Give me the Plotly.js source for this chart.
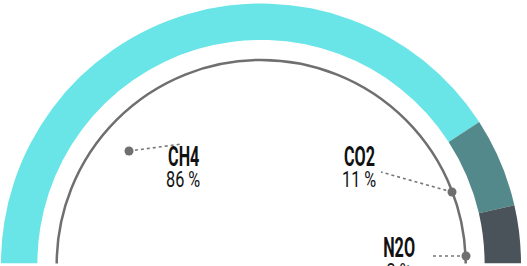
<!DOCTYPE html>
<html>
<head>
<meta charset="utf-8">
<script src="https://cdn.plot.ly/plotly-3.0.1.min.js"></script>
<style>
  html, body { margin: 0; padding: 0; overflow: hidden; background: #ffffff; }
  #chart { width: 527px; height: 530px; }
</style>
</head>
<body>
<div id="chart"></div>
<script>
// ---- data ----
const gases = ["CH4", "CO2", "N2O"];
const shareLabels = ["86 %", "11 %", "3 %"];
// share of the half-ring each arc occupies (%)
const arcShares = [81.7, 11.1, 7.2];
const gasColors = ["#69E4E7", "#54898B", "#4A525A"];

// ---- geometry helpers (pixel -> paper) ----
const W = 527, H = 530;
const px = x => x / W;
const py = y => 1 - y / H;

const cx = 261, cy = 263.5, R = 260;

// pie values: the three arcs plus an invisible lower half
const pieValues = arcShares.concat([arcShares.reduce((a, b) => a + b, 0)]);
const pieColors = gasColors.concat(["rgba(255,255,255,0)"]);

const pie = {
  type: "pie",
  values: pieValues,
  labels: gases.concat(["rest"]),
  sort: false,
  direction: "clockwise",
  rotation: -90,
  hole: 0.86,
  marker: { colors: pieColors, line: { width: 0 } },
  textinfo: "none",
  hoverinfo: "skip",
  showlegend: false,
  domain: { x: [px(cx - R), px(cx + R)], y: [py(cy + R), py(cy - R)] }
};

// leader dots / lines / label anchors (pixel coords)
const dots = [[129, 151], [452, 192], [466, 256]];
const lineEnds = [[182, 144], [381, 172], [430, 256]];
const labelX = [183, 359, 399];
const nameY = [156.5, 156.5, 247.5];
const pctY = [180, 180, 271];

const shapes = [];
const gr = 204.5, gcx = 261.2, gcy = 264.5;
shapes.push({
  type: "circle", xref: "paper", yref: "paper",
  x0: px(gcx - gr), x1: px(gcx + gr), y0: py(gcy + gr), y1: py(gcy - gr),
  line: { color: "#6f6f6f", width: 2.5 }, fillcolor: "rgba(0,0,0,0)"
});
shapes.push({
  type: "rect", xref: "paper", yref: "paper",
  x0: 0, x1: 1, y0: 0, y1: py(263.5),
  line: { width: 0 }, fillcolor: "#ffffff", layer: "above"
});
const annotations = [];
const FONT = "Roboto, Open Sans, DejaVu Sans, sans-serif";
for (let i = 0; i < gases.length; i++) {
  const [dx, dy] = dots[i];
  const [ex, ey] = lineEnds[i];
  shapes.push({
    type: "line", xref: "paper", yref: "paper",
    x0: px(dx), y0: py(dy), x1: px(ex), y1: py(ey),
    line: { color: "#777777", width: 1.6, dash: "dot" }
  });
  shapes.push({
    type: "circle", xref: "paper", yref: "paper",
    x0: px(dx - 4.5), x1: px(dx + 4.5), y0: py(dy + 4.5), y1: py(dy - 4.5),
    line: { width: 0 }, fillcolor: "#6f6f6f"
  });
  annotations.push({
    xref: "paper", yref: "paper", x: px(labelX[i]), y: py(nameY[i]),
    xanchor: "center", yanchor: "middle", showarrow: false,
    text: gases[i],
    font: { family: FONT, size: 24.5, weight: 700, color: "#111111" }
  });
  annotations.push({
    xref: "paper", yref: "paper", x: px(labelX[i]), y: py(pctY[i]),
    xanchor: "center", yanchor: "middle", showarrow: false,
    text: shareLabels[i],
    font: { family: FONT, size: 22, weight: 400, color: "#111111" }
  });
}

const layout = {
  width: W, height: H,
  margin: { l: 0, r: 0, t: 0, b: 0 },
  paper_bgcolor: "#ffffff",
  plot_bgcolor: "#ffffff",
  showlegend: false,
  shapes: shapes,
  annotations: annotations
};

Plotly.newPlot("chart", [pie], layout, { displayModeBar: false, staticPlot: true }).then(() => {
  // reshape label text to mimic the tall condensed display face
  const texts = document.querySelectorAll("#chart .annotation-text");
  texts.forEach((t, k) => {
    const sx = (k % 2 === 0) ? 0.66 : 0.74;
    const sy = (k % 2 === 0) ? 1.1 : 1.04;
    const bb = t.getBBox();
    const c = bb.x + bb.width / 2;
    const m = bb.y + bb.height / 2;
    t.setAttribute("transform", `translate(${c} ${m}) scale(${sx} ${sy}) translate(${-c} ${-m})`);
  });
});
</script>
</body>
</html>
